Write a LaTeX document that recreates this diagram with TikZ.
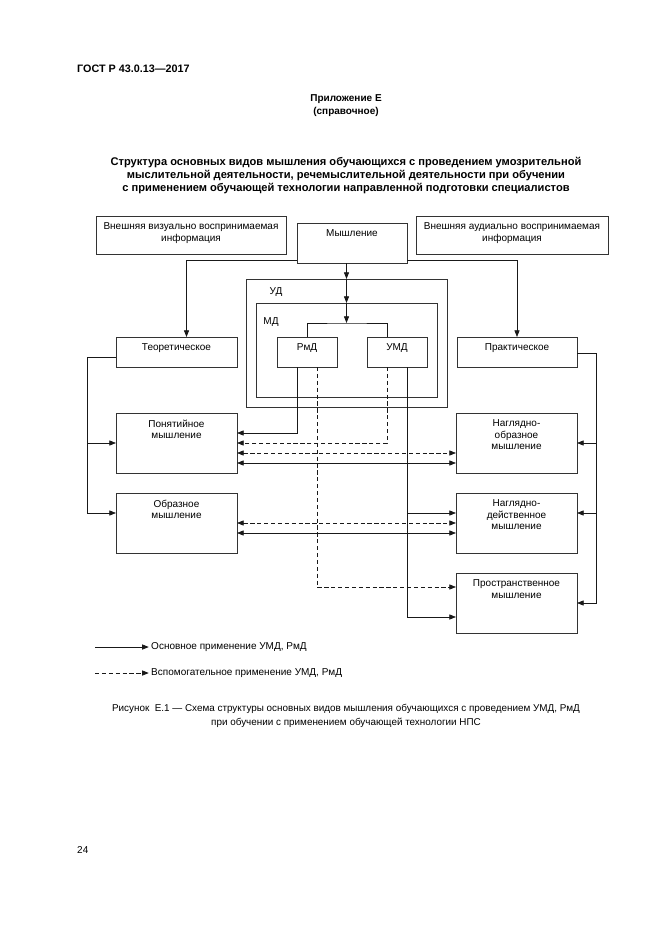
\documentclass[tikz,border=0pt]{standalone}
\usepackage{fontspec}
\setmainfont{Liberation Sans}
\usetikzlibrary{arrows.meta,calc,fit}

\begin{document}
\begin{tikzpicture}[x=0.9pt,y=-0.9pt,
	blok/.style={draw=black!80, line width=0.65pt, inner sep=0pt, outer sep=0pt},
	txt/.style={anchor=north, align=center, inner sep=0pt, yshift=-5.8pt, font=\fontsize{9}{10.4}\selectfont},
	link/.style={draw=black!90, line width=0.65pt, -{Triangle[length=6pt,width=4.6pt]}},
	both/.style={link, {Triangle[length=6pt,width=4.6pt]}-{Triangle[length=6pt,width=4.6pt]}},
	aux/.style={dash pattern=on 3.8pt off 2.4pt},
	]
			%%%%% PAGE %%%%%
			
			\fill[white] (0,0) rectangle (661,935);
			\useasboundingbox (0,0) rectangle (661,935);
			
			\node[anchor=west, inner sep=0pt, font=\bfseries\fontsize{9.7}{11}\selectfont] (gost) at (77,69) {ГОСТ Р 43.0.13—2017};
			\node[align=center, font=\bfseries\fontsize{9}{11.7}\selectfont] (pril) at (346,106) {Приложение Е\\(справочное)};
			\node[align=center, font=\bfseries\fontsize{10}{11.3}\selectfont] (title) at (346,175.5) {Структура основных видов мышления обучающихся с проведением умозрительной\\мыслительной деятельности, речемыслительной деятельности при обучении\\с применением обучающей технологии направленной подготовки специалистов};
			
			%%%%% BOXES %%%%%
			
			\node[blok, fit={(96,216) (286,254)}, label={[txt, name=vis-t]north:Внешняя визуально воспринимаемая\\информация}] (vis) {};
			\node[blok, fit={(297,223) (407,263)}, label={[txt, name=mysl-t]north:Мышление}] (mysl) {};
			\node[blok, fit={(416,216) (608,254)}, label={[txt, name=aud-t]north:Внешняя аудиально воспринимаемая\\информация}] (aud) {};
			
			\node[blok, fit={(246,279) (447,407)}] (ud) {};
			\node[blok, fit={(256,303) (437,397)}] (md) {};
			\node[font=\fontsize{9}{10}\selectfont] (ud-t) at (276,292) {УД};
			\node[font=\fontsize{9}{10}\selectfont] (md-t) at (271,322) {МД};
			
			\node[blok, fit={(116,337) (237,367)}, label={[txt, name=teor-t]north:Теоретическое}] (teor) {};
			\node[blok, fit={(277,337) (337,367)}, label={[txt, name=rmd-t]north:РмД}] (rmd) {};
			\node[blok, fit={(367,337) (427,367)}, label={[txt, name=umd-t]north:УМД}] (umd) {};
			\node[blok, fit={(457,337) (577,367)}, label={[txt, name=prak-t]north:Практическое}] (prak) {};
			
			\node[blok, fit={(116,413) (237,473)}, label={[txt, name=pon-t]north:Понятийное\\мышление}] (pon) {};
			\node[blok, fit={(116,493) (237,553)}, label={[txt, name=obr-t]north:Образное\\мышление}] (obr) {};
			\node[blok, fit={(456,413) (577,473)}, label={[txt, name=nob-t]north:Наглядно-\\образное\\мышление}] (nob) {};
			\node[blok, fit={(456,493) (577,553)}, label={[txt, name=nde-t]north:Наглядно-\\действенное\\мышление}] (nde) {};
			\node[blok, fit={(456,573) (577,633)}, label={[txt, name=prs-t]north:Пространственное\\мышление}] (prs) {};
			
			%%%%% LINKS %%%%%
			
			\coordinate (brk) at (ud.north |- 0,323);
			\draw[link] ($(mysl.south west)+(0,-3)$) -| ($(teor.north)+(10,0)$);
			\draw[link] ($(mysl.south east)+(0,-3)$) -| (prak.north);
			\draw[link] (mysl.south -| ud.north) -- (ud.north);
			\draw[link] (ud.north) -- (md.north);
			\draw[link] (md.north) -- (brk);
			\draw[link, -] (rmd.north) |- (brk) -| ($(umd.north)+(-10,0)$);
			
			\draw[link] ($(teor.north west)+(0,20)$) -- ++(-29,0) |- (pon.west);
			\draw[link] ($(teor.north west)+(0,20)$) -- ++(-29,0) |- ($(obr.north west)+(0,20)$);
			
			\draw[link] ($(prak.north east)+(0,16)$) -- ++(19,0) |- (nob.east);
			\draw[link] ($(prak.north east)+(0,16)$) -- ++(19,0) |- ($(nde.north east)+(0,20)$);
			\draw[link] ($(prak.north east)+(0,16)$) -- ++(19,0) |- (prs.east);
			
			\draw[link] ($(rmd.south)+(-10,0)$) |- ($(pon.north east)+(0,20)$);
			\draw[link, aux] ($(umd.south)+(-10,0)$) |- ($(pon.north east)+(0,30)$);
			\draw[link, aux] ($(rmd.south)+(10,0)$) |- ($(prs.north west)+(0,14)$);
			\draw[link] ($(umd.south)+(10,0)$) |- ($(nde.north west)+(0,20)$);
			\draw[link] ($(umd.south)+(10,0)$) |- ($(prs.north west)+(0,44)$);
			
			\draw[both, aux] ($(pon.north east)+(0,40)$) -- ($(nob.north west)+(0,40)$);
			\draw[both] ($(pon.north east)+(0,50)$) -- ($(nob.north west)+(0,50)$);
			\draw[both, aux] ($(obr.north east)+(0,30)$) -- ($(nde.north west)+(0,30)$);
			\draw[both] ($(obr.north east)+(0,40)$) -- ($(nde.north west)+(0,40)$);
			
			%%%%% LEGEND %%%%%
			
			\coordinate (lg1a) at (95,647);
			\coordinate (lg2a) at (95,673);
			\node[anchor=west, inner sep=0pt, font=\fontsize{9}{10}\selectfont] (lg1) at (151,647) {Основное применение УМД, РмД};
			\node[anchor=west, inner sep=0pt, font=\fontsize{9}{10}\selectfont] (lg2) at (151,673) {Вспомогательное применение УМД, РмД};
			\draw[link, shorten >=2pt] (lg1a) -- (lg1.west);
			\draw[link, aux, shorten >=2pt] (lg2a) -- (lg2.west);
			
			\node[align=center, font=\fontsize{8.9}{12.5}\selectfont] (cap) at (346,716) {Рисунок~~Е.1 — Схема структуры основных видов мышления обучающихся с проведением УМД, РмД\\при обучении с применением обучающей технологии НПС};
			
			\node[anchor=west, inner sep=0pt, font=\fontsize{9}{10}\selectfont] (page) at (77,850) {24};
			
			%%%%% END %%%%%
\end{tikzpicture}
\end{document}
